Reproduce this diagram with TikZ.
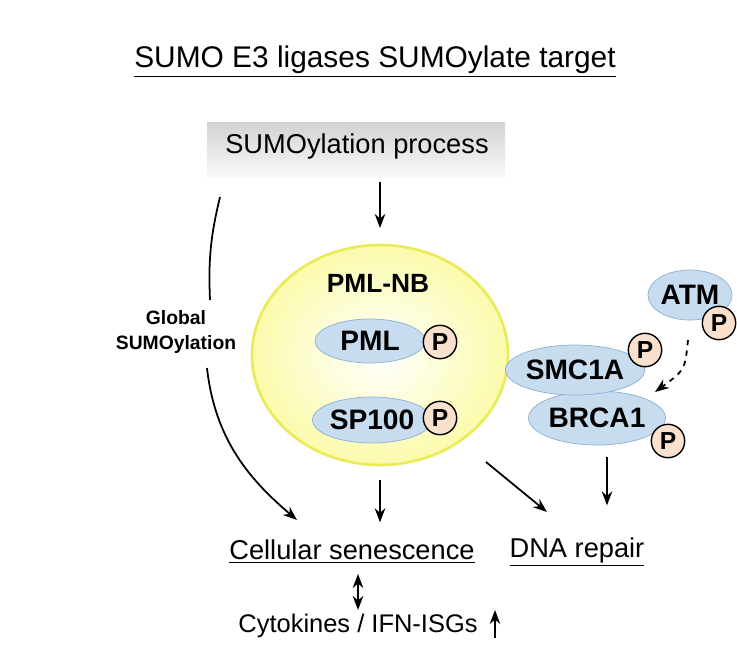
\documentclass[tikz,border=0pt]{standalone}
\usepackage{fontspec}
\setmainfont{Liberation Sans}
\usetikzlibrary{arrows.meta,shapes.geometric}
\definecolor{protfill}{RGB}{200,220,240}
\definecolor{protline}{RGB}{140,175,210}
\definecolor{pfill}{RGB}{250,225,205}
\definecolor{nbfill}{RGB}{250,250,215}
\definecolor{nbline}{RGB}{235,235,90}
\tikzset{
  prot/.style={ellipse,draw=protline,fill=protfill,font=\fontsize{16}{18}\selectfont\bfseries,inner sep=0pt},
  phos/.style={circle,draw=black,thick,fill=pfill,minimum size=19pt,inner sep=0pt,font=\fontsize{14}{16}\selectfont\bfseries},
  arr/.style={-{Stealth[length=8pt]},line width=1pt},
  lbl/.style={font=\fontsize{15.5}{18}\selectfont}
}
\begin{document}
\begin{tikzpicture}[x=0.02cm,y=-0.02cm]
\useasboundingbox (0,0) rectangle (737,663);
% title
\node[font=\fontsize{17}{20}\selectfont] (title) at (375,62) {\underline{SUMO E3 ligases SUMOylate target}};
% process box
\shade[top color=gray!35,bottom color=gray!5] (207,122) rectangle (505,177);
\node[lbl] (proc) at (357,146) {SUMOylation process};
% nuclear body
\node[ellipse,draw=nbline,line width=1.5pt,inner color=white,outer color=nbfill!80!yellow,minimum width=256*0.02cm,minimum height=220*0.02cm] (nb) at (380,355) {};
\node[font=\fontsize{15}{17}\selectfont\bfseries] (nbl) at (378,283) {PML-NB};
\node[prot,minimum width=110*0.02cm,minimum height=44*0.02cm] (pml) at (370,341) {PML\hspace{1.6em}};
\node[phos] (pmlp) at (440,342) {P};
\node[prot,minimum width=112*0.02cm,minimum height=46*0.02cm] (sp) at (372,420) {SP100\hspace{1.4em}};
\node[phos] (spp) at (440,418) {P};
% right proteins
\node[prot,minimum width=84*0.02cm,minimum height=50*0.02cm] (atm) at (690,295) {ATM};
\node[phos] (atmp) at (719,323) {P};
\node[prot,minimum width=112*0.02cm,minimum height=54*0.02cm] (brca) at (597,418) {BRCA1};
\node[prot,minimum width=110*0.02cm,minimum height=50*0.02cm] (smc) at (575,370) {SMC1A};
\node[phos] (smcp) at (645,350) {P};
\node[phos] (brcap) at (668,441) {P};
% global
\node[font=\fontsize{11}{14}\selectfont\bfseries,align=center] (glob) at (176,332) {Global\\SUMOylation};
% outcomes
\node[lbl] (sen) at (352,552) {\underline{Cellular senescence}};
\node[lbl] (dna) at (577,552) {\underline{DNA repair}};
\node[font=\fontsize{14.5}{17}\selectfont] (cyt) at (358,626) {Cytokines / IFN-ISGs};
% connector ends
\coordinate (g1) at (220,197);
\coordinate (g2) at (210,300);
\coordinate (g3) at (207,368);
\coordinate (g4) at (297,520);
\coordinate (nbse) at (486,462);
\coordinate (up1) at (495,638);
\coordinate (up2) at (495,610);
% arrows
\draw[arr] (380,182) -- (380,228);
\draw[line width=1pt] (g1) to[bend right=8] (g2);
\draw[arr] (g3) .. controls (215,440) and (250,480) .. (g4);
\draw[arr] (nb.south) ++(0,14) -- ++(0,42);
\draw[arr] (nbse) -- (547,512);
\draw[arr] (brca.south) ++(10,12) -- ++(0,48);
\draw[line width=1.2pt,{Stealth[length=8pt]}-{Stealth[length=8pt]}] (sen.south) ++(6,4) -- ++(0,36);
\draw[arr] (up1) -- (up2);
\draw[-{Stealth[length=8pt]},line width=1pt,dashed] (688,340) .. controls (685,370) .. (655,392);
\end{tikzpicture}
\end{document}
